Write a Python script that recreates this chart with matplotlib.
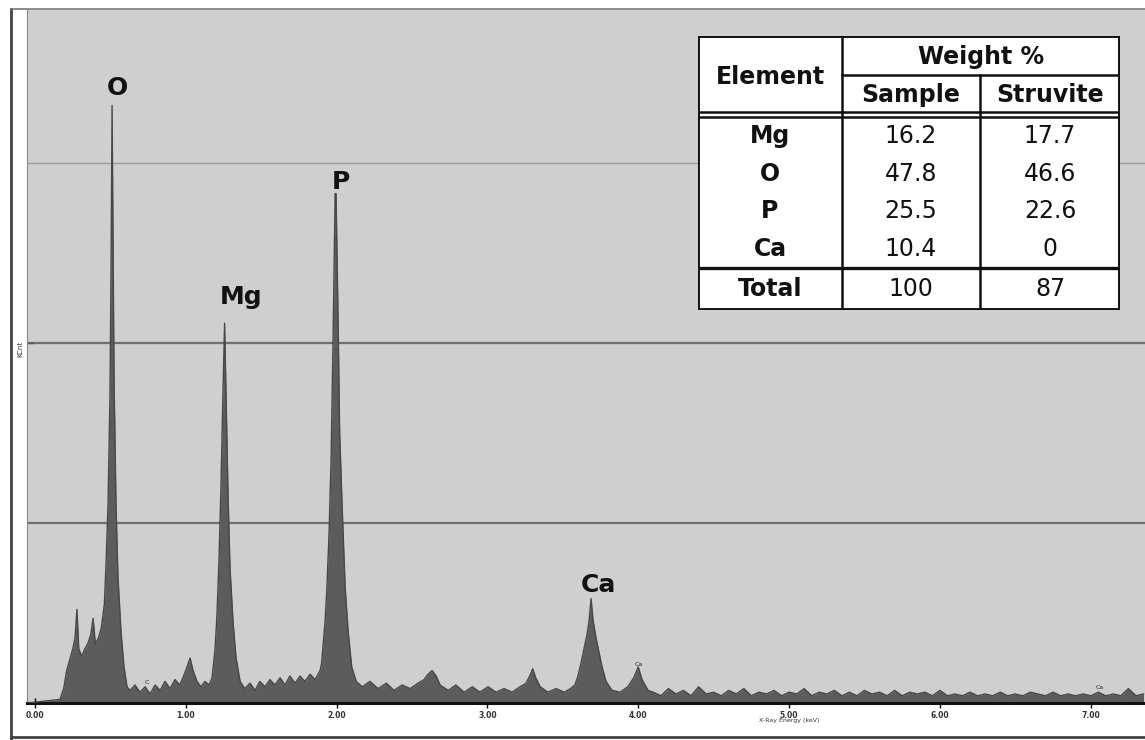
import numpy as np
import matplotlib.pyplot as plt
from matplotlib.lines import Line2D

# EDS spectrum outline up to the Ca K-beta line (energy in keV, counts in kCnt)
energy = [-0.05, 0.166, 0.19, 0.21, 0.23, 0.25, 0.265, 0.278, 0.29, 0.31, 0.33, 0.35, 0.37, 0.385,
          0.40, 0.42, 0.44, 0.46, 0.47, 0.484, 0.497, 0.504, 0.511, 0.517, 0.524, 0.537, 0.55, 0.57,
          0.59, 0.61, 0.63, 0.663, 0.696, 0.73, 0.763, 0.796, 0.83, 0.862, 0.895, 0.928, 0.96, 0.99,
          1.008, 1.028, 1.048, 1.074, 1.10, 1.127, 1.154, 1.174, 1.194, 1.207, 1.22, 1.233, 1.247,
          1.257, 1.267, 1.28, 1.293, 1.313, 1.333, 1.36, 1.39, 1.426, 1.459, 1.49, 1.525, 1.558,
          1.59, 1.625, 1.658, 1.69, 1.724, 1.757, 1.79, 1.824, 1.857, 1.89, 1.90, 1.923, 1.936, 1.95,
          1.963, 1.976, 1.99, 1.996, 2.01, 2.02, 2.036, 2.056, 2.076, 2.10, 2.13, 2.17, 2.22, 2.275,
          2.33, 2.38, 2.434, 2.487, 2.54, 2.58, 2.606, 2.633, 2.66, 2.686, 2.74, 2.79, 2.845, 2.90,
          2.95, 3.004, 3.057, 3.11, 3.163, 3.216, 3.256, 3.28, 3.30, 3.32, 3.35, 3.40, 3.455, 3.51,
          3.55, 3.58, 3.60, 3.62, 3.64, 3.66, 3.673, 3.687, 3.70, 3.72, 3.74, 3.76, 3.786, 3.826,
          3.88, 3.93, 3.97, 4.00, 4.025, 4.065]
counts = [0.0, 0.02, 0.08, 0.18, 0.24, 0.30, 0.36, 0.52, 0.30, 0.26, 0.30, 0.33, 0.38, 0.47,
          0.33, 0.36, 0.42, 0.55, 0.75, 1.10, 1.70, 2.40, 3.32, 2.60, 1.80, 1.10, 0.70, 0.40,
          0.20, 0.09, 0.07, 0.10, 0.06, 0.09, 0.05, 0.10, 0.07, 0.12, 0.08, 0.13, 0.10, 0.16,
          0.20, 0.25, 0.18, 0.12, 0.09, 0.12, 0.10, 0.14, 0.30, 0.50, 0.80, 1.20, 1.75,
          2.11, 1.70, 1.15, 0.75, 0.45, 0.25, 0.12, 0.08, 0.11, 0.07, 0.12, 0.09, 0.13,
          0.10, 0.14, 0.10, 0.15, 0.11, 0.15, 0.12, 0.16, 0.13, 0.18, 0.22, 0.45, 0.65, 0.95,
          1.35, 2.00, 2.83, 2.83, 2.10, 1.50, 1.10, 0.65, 0.40, 0.20, 0.12, 0.09, 0.12, 0.08,
          0.11, 0.07, 0.10, 0.08, 0.11, 0.13, 0.16, 0.18, 0.15, 0.10, 0.07, 0.10, 0.06, 0.09,
          0.06, 0.09, 0.06, 0.08, 0.06, 0.09, 0.11, 0.15, 0.19, 0.14, 0.09, 0.06, 0.08, 0.06,
          0.08, 0.10, 0.15, 0.22, 0.30, 0.38, 0.45, 0.58, 0.46, 0.36, 0.28, 0.20, 0.12, 0.07,
          0.06, 0.09, 0.14, 0.20, 0.13, 0.07]

# background channels above 4 keV
tail_energy = [4.10, 4.15, 4.20, 4.25, 4.30, 4.35, 4.40, 4.45, 4.50, 4.55,
               4.60, 4.65, 4.70, 4.75, 4.80, 4.85, 4.90, 4.95, 5.00, 5.05,
               5.10, 5.15, 5.20, 5.25, 5.30, 5.35, 5.40, 5.45, 5.50, 5.55,
               5.60, 5.65, 5.70, 5.75, 5.80, 5.85, 5.90, 5.95, 6.00, 6.05,
               6.10, 6.15, 6.20, 6.25, 6.30, 6.35, 6.40, 6.45, 6.50, 6.55,
               6.60, 6.65, 6.70, 6.75, 6.80, 6.85, 6.90, 6.95, 7.00, 7.05,
               7.10, 7.15, 7.20, 7.25, 7.30, 7.35]
tail_counts = [0.06, 0.04, 0.08, 0.05, 0.07, 0.04, 0.09, 0.05, 0.06, 0.04,
               0.07, 0.05, 0.08, 0.04, 0.06, 0.05, 0.07, 0.04, 0.06, 0.05,
               0.08, 0.04, 0.06, 0.05, 0.07, 0.04, 0.06, 0.04, 0.07, 0.05,
               0.06, 0.04, 0.07, 0.04, 0.06, 0.05, 0.06, 0.04, 0.07, 0.04,
               0.05, 0.04, 0.06, 0.04, 0.05, 0.04, 0.06, 0.04, 0.05, 0.04,
               0.06, 0.05, 0.04, 0.06, 0.04, 0.05, 0.04, 0.05, 0.04, 0.06,
               0.04, 0.05, 0.04, 0.08, 0.04, 0.05]

# labelled peaks
peak_names = ['O', 'Mg', 'P', 'Ca']
peak_energy = [0.511, 1.257, 1.996, 3.687]

# weight % table
elements = ['Mg', 'O', 'P', 'Ca']
sample_wt = ['16.2', '47.8', '25.5', '10.4']
struvite_wt = ['17.7', '46.6', '22.6', '0']
total_wt = ['100', '87']

xticks = [0, 1, 2, 3, 4, 5, 6, 7]
xtick_labels = ['0.00', '1.00', '2.00', '3.00', '4.00', '5.00', '6.00', '7.00']

energy = np.array(energy + tail_energy)
counts = np.array(counts + tail_counts)

fig = plt.figure(figsize=(11.45, 7.4), dpi=100)
fig.patch.set_facecolor('white')
ax = fig.add_axes([0.0236, 0.05, 0.9764, 0.9365])
ax.set_facecolor('#cfcfcf')
ax.set_xlim(-0.053, 7.36)
ax.set_ylim(0, 3.85)

# grid lines of the spectrum window
ax.axhline(1, color='#6f6f6f', lw=1.6, zorder=1)
ax.axhline(2, color='#6f6f6f', lw=1.6, zorder=1)
ax.axhline(3, color='#9a9a9a', lw=1.0, zorder=1)

ax.fill_between(energy, 0, counts, color='#5c5c5c', lw=0, zorder=2)
ax.plot(energy, counts, color='#474747', lw=1.0, zorder=3)

# peak labels sit just over each peak top
label_dx = [0.033, 0.11, 0.03, 0.047]
label_dy = [0.03, 0.08, 0.0, 0.01]
for name, e, dx, dy in zip(peak_names, peak_energy, label_dx, label_dy):
    top = np.interp(e, energy, counts)
    ax.text(e + dx, top + dy, name, ha='center', va='bottom', fontsize=18,
            fontweight='bold', color='#111111', zorder=4)

# small marker labels near the baseline
ax.text(4.0, 0.2, 'Ca', fontsize=4.5, color='#222222', ha='center', va='bottom', zorder=4)
ax.text(0.74, 0.1, 'C', fontsize=4.5, color='#222222', ha='center', va='bottom', zorder=4)
ax.text(7.06, 0.07, 'Ca', fontsize=4.5, color='#222222', ha='center', va='bottom', zorder=4)

for s in ['top', 'right']:
    ax.spines[s].set_visible(False)
ax.spines['bottom'].set_linewidth(2.2)
ax.spines['bottom'].set_color('#111111')
ax.spines['left'].set_linewidth(0.8)
ax.spines['left'].set_color('#888888')

ax.set_xticks(xticks)
ax.set_xticklabels(xtick_labels, fontsize=5.5, fontweight='bold', color='#333333')
ax.tick_params(axis='x', direction='inout', length=7, width=1, pad=2)
ax.set_yticks([2])
ax.set_yticklabels([])
ax.tick_params(axis='y', direction='in', length=4, width=1, color='#555555')
ax.set_xlabel('X-Ray Energy (keV)', fontsize=4.5, color='#333333', labelpad=0)
ax.xaxis.set_label_coords(5.053 / 7.413, -0.022)
fig.text(0.0175, 0.528, 'KCnt', rotation=90, fontsize=5, color='#333333',
         ha='center', va='center')

# outer frame of the panel
fig.add_artist(Line2D([0.0096, 0.0096], [0.0, 0.988], color='#444444', lw=2))
fig.add_artist(Line2D([0.0096, 1.0], [0.004, 0.004], color='#444444', lw=2))
fig.add_artist(Line2D([0.0096, 1.0], [0.988, 0.988], color='#777777', lw=1.2))

# composition table, drawn in its own axes
tb = fig.add_axes([698 / 1145, 1 - 310 / 740, 422 / 1145, 274 / 740])
tb.set_xlim(0, 1)
tb.set_ylim(1, 0)
tb.axis('off')
tb.add_patch(plt.Rectangle((0, 0), 1, 1, facecolor='white', edgecolor='#111111', lw=2.8))

c1, c2 = 0.341, 0.668
r_head = 0.142
r_sub = 0.278
r_sub2 = 0.296
r_total = 0.847
row_h = (r_total - r_sub2) / 4

tb.plot([c1, c1], [0, 1], color='#111111', lw=1.8)
tb.plot([c2, c2], [r_head, 1], color='#111111', lw=1.8)
tb.plot([c1, 1], [r_head, r_head], color='#111111', lw=1.8)
tb.plot([0, 1], [r_sub, r_sub], color='#111111', lw=1.8)
tb.plot([0, 1], [r_sub2, r_sub2], color='#111111', lw=1.8)
tb.plot([0, 1], [r_total, r_total], color='#111111', lw=2.4)

kw = dict(ha='center', va='center', fontsize=17, color='#111111')
tb.text(c1 / 2, r_sub / 2 + 0.01, 'Element', fontweight='bold', **kw)
tb.text((c1 + 1) / 2, r_head / 2 + 0.005, 'Weight %', fontweight='bold', **kw)
tb.text((c1 + c2) / 2, (r_head + r_sub) / 2 + 0.005, 'Sample', fontweight='bold', **kw)
tb.text((c2 + 1) / 2, (r_head + r_sub) / 2 + 0.005, 'Struvite', fontweight='bold', **kw)
for i, el in enumerate(elements):
    yc = r_sub2 + row_h * (i + 0.5)
    tb.text(c1 / 2, yc, el, fontweight='bold', **kw)
    tb.text((c1 + c2) / 2, yc, sample_wt[i], **kw)
    tb.text((c2 + 1) / 2, yc, struvite_wt[i], **kw)
yc = (r_total + 1) / 2
tb.text(c1 / 2, yc, 'Total', fontweight='bold', **kw)
tb.text((c1 + c2) / 2, yc, total_wt[0], **kw)
tb.text((c2 + 1) / 2, yc, total_wt[1], **kw)

fig.savefig('out.png', dpi=100)
